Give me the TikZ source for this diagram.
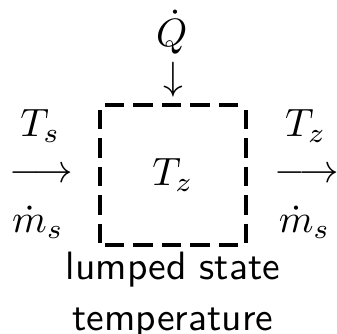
\documentclass[tikz,border=0pt]{standalone}
\usepackage{amsmath}
\usepackage{amssymb}
\usepackage{tikz}

\tikzset{
    zonebox/.style = {minimum width = 1.28cm, minimum height = 1.23cm, inner sep = 0pt},
    zoneedge/.style = {line width = 1pt, dash pattern = on 4.9pt off 2.3pt, dash phase = 6pt},
    flow/.style = {anchor = base, inner sep = 0pt}
}

\begin{document}
\begin{tikzpicture}
        \useasboundingbox (-1.538,-1.405) rectangle (1.458,1.556);

        \node[zonebox] (zone) at (0,0) {$T_z$};
        \draw[zoneedge] (zone.north west) -- (zone.north east);
        \draw[zoneedge] (zone.north west) -- (zone.south west);
        \draw[zoneedge] (zone.north east) -- (zone.south east);
        \draw[zoneedge] (zone.south west) -- (zone.south east);

        \node[flow] (qdot) at (-0.01,1.14) {$\dot{Q}$};
        \node[flow] (qarrow) at (0,0.756) {$\downarrow$};

        \node[flow] (tin) at (-1.18,0.34) {$T_s$};
        \node[flow] (inarrow) at (-1.17,-0.07) {$\longrightarrow$};
        \node[flow] (min) at (-1.2,-0.51) {$\dot{m}_s$};

        \node[flow] (tout) at (1.18,0.34) {$T_z$};
        \node[flow] (outarrow) at (1.19,-0.07) {$\longrightarrow$};
        \node[flow] (mout) at (1.17,-0.51) {$\dot{m}_s$};

        \node[anchor = north, inner sep = 0pt, align = center,
            font = \sffamily\fontsize{10}{13}\selectfont] (lumped) at (0,-0.675)
            {lumped state\\temperature};
    \end{tikzpicture}
\end{document}
